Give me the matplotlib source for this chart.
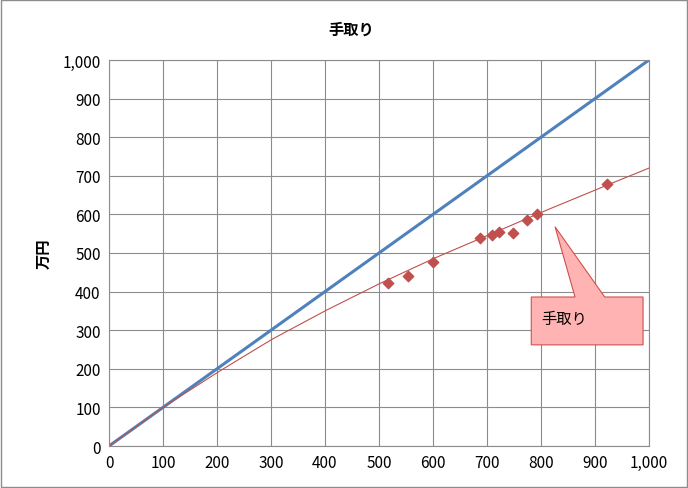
import matplotlib
matplotlib.use("Agg")
import matplotlib.pyplot as plt
from matplotlib.patches import Polygon
from matplotlib.ticker import FuncFormatter
import numpy as np

plt.rcParams['font.family'] = ['Noto Sans CJK JP', 'DejaVu Sans']

x_pts = [517, 554, 600, 687, 709, 722, 748, 774, 793, 922]
y_pts = [422, 440, 477, 539, 547, 554, 552, 585, 601, 679]
line_x = [0, 1000]
line_y = [0, 1000]
trend_x = [0, 100, 200, 300, 400, 500, 600, 700, 800, 900, 1000]
trend_y = [0, 100, 190, 275, 350, 420, 485, 545, 605, 663, 720]

fig = plt.figure(figsize=(6.88, 4.89), dpi=100)
ax = fig.add_axes([109/688, 1-447/489, 540/688, 386/489])
ax.set_xlim(0, 1000); ax.set_ylim(0, 1000)
ax.set_xticks(range(0, 1001, 100)); ax.set_yticks(range(0, 1001, 100))
fmt = FuncFormatter(lambda v, p: f"{int(v):,}")
ax.xaxis.set_major_formatter(fmt); ax.yaxis.set_major_formatter(fmt)
ax.grid(True, color='#8c8c8c', lw=0.8)
ax.tick_params(length=0, labelsize=11, pad=6)
for s in ax.spines.values():
    s.set_color('#8c8c8c')
ax.set_axisbelow(True)

ax.plot(line_x, line_y, color='#4f81bd', lw=2.2)
xs = np.linspace(0, 1000, 200)
ax.plot(xs, np.interp(xs, trend_x, trend_y), color='#c0504d', lw=0.8)
ax.scatter(x_pts, y_pts, marker='D', s=28, color='#c0504d', zorder=3)

# callout
ax.add_patch(Polygon([(782, 262), (989, 262), (989, 386), (918, 386), (826, 568),
                      (863, 386), (782, 386)], closed=True, facecolor='#ffb3b3',
                     edgecolor='#d05050', lw=0.8, zorder=4))
ax.text(800, 330, "手取り", fontsize=11, va='center', zorder=5)

fig.text(0.51, 1-30/489, "手取り", fontsize=11, fontweight='bold', ha='center', va='center')
ax.set_ylabel("万円", fontsize=11, fontweight='bold', labelpad=8)
fig.patches.append(plt.Rectangle((0.002, 0.002), 0.996, 0.996, transform=fig.transFigure,
                                 fill=False, edgecolor='#8c8c8c', lw=1))
fig.savefig("out.png", dpi=100)
